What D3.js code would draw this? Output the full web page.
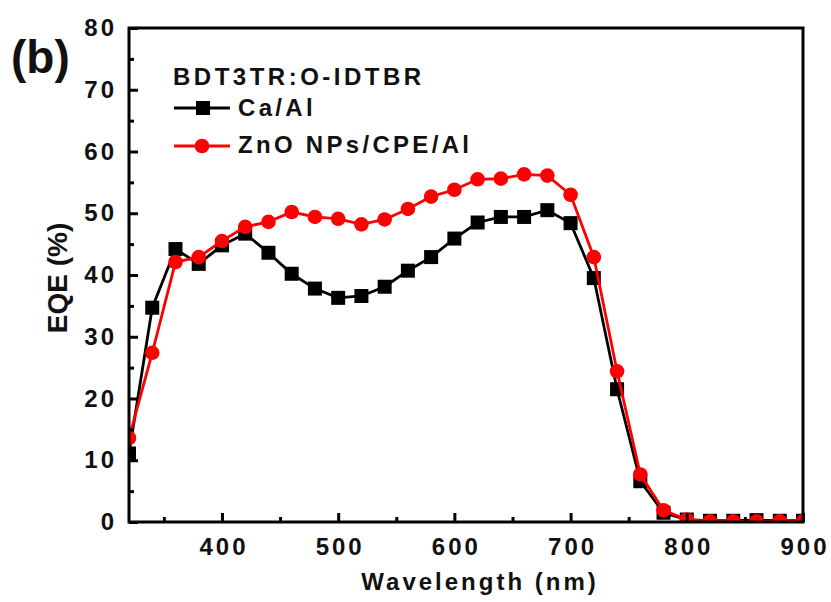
<!DOCTYPE html>
<html>
<head>
<meta charset="utf-8">
<script src="https://cdn.jsdelivr.net/npm/d3@7"></script>
<style>
  body { margin: 0; background: #fff; }
  text { font-family: Arial, "Liberation Sans", sans-serif; font-weight: bold; }
</style>
</head>
<body>
<div id="chart"></div>
<script>
// wavelengths (nm)
const wavelengths = [320, 340, 360, 380, 400, 420, 440, 460, 480, 500, 520, 540, 560, 580, 600,
  620, 640, 660, 680, 700, 720, 740, 760, 780, 800, 820, 840, 860, 880, 900];

// EQE (%) for Ca/Al
const caAl = [11.1, 34.7, 44.2, 41.8, 44.8, 46.7, 43.6, 40.2, 37.8, 36.3, 36.6, 38.1, 40.7, 42.9, 45.9,
  48.5, 49.4, 49.4, 50.5, 48.4, 39.5, 21.5, 6.6, 1.5, 0.4, 0.2, 0.2, 0.3, 0.2, 0.2];

// EQE (%) for ZnO NPs/CPE/Al
const znoCpe = [13.6, 27.4, 42.1, 42.9, 45.5, 47.8, 48.6, 50.2, 49.4, 49.1, 48.2, 49.0, 50.7, 52.7, 53.8,
  55.5, 55.6, 56.3, 56.1, 53.0, 42.9, 24.4, 7.7, 1.9, 0.4, 0.1, 0.1, 0.1, 0.1, 0.1];

const xTicks = [400, 500, 600, 700, 800, 900];
const xMinor = [350, 450, 550, 650, 750, 850];
const yTicks = [0, 10, 20, 30, 40, 50, 60, 70, 80];
const yMinor = [5, 15, 25, 35, 45, 55, 65, 75];

const svgWidth = 831, svgHeight = 602;
const margin = { top: 28, right: 28, bottom: 80, left: 129 };
const width = svgWidth - margin.left - margin.right;
const height = svgHeight - margin.top - margin.bottom;

const svg = d3.select("#chart")
  .append("svg")
  .attr("width", svgWidth)
  .attr("height", svgHeight);

const g = svg.append("g")
  .attr("transform", `translate(${margin.left}, ${margin.top})`);

const x = d3.scaleLinear().domain([320, 900]).range([0, width]);
const y = d3.scaleLinear().domain([0, 80]).range([height, 0]);

// clip so markers at the edges are cut by the frame
g.append("clipPath").attr("id", "clip")
  .append("rect").attr("width", width).attr("height", height);

const plot = g.append("g").attr("clip-path", "url(#clip)");

const line = d3.line()
  .x((d, i) => x(wavelengths[i]))
  .y(d => y(d));

// Ca/Al series
plot.append("path")
  .datum(caAl)
  .attr("fill", "none")
  .attr("stroke", "#000")
  .attr("stroke-width", 2.8)
  .attr("d", line);

plot.selectAll(".sq")
  .data(caAl)
  .join("rect")
  .attr("x", (d, i) => x(wavelengths[i]) - 7)
  .attr("y", d => y(d) - 7)
  .attr("width", 14)
  .attr("height", 14)
  .attr("fill", "#000");

// ZnO series
plot.append("path")
  .datum(znoCpe)
  .attr("fill", "none")
  .attr("stroke", "#f00")
  .attr("stroke-width", 2.8)
  .attr("d", line);

plot.selectAll(".dot")
  .data(znoCpe)
  .join("circle")
  .attr("cx", (d, i) => x(wavelengths[i]))
  .attr("cy", d => y(d))
  .attr("r", 7.3)
  .attr("fill", "#f00");

// axes
const xAxis = g.append("g")
  .attr("transform", `translate(0, ${height})`)
  .call(d3.axisBottom(x).tickValues(xTicks).tickSizeInner(-9).tickSizeOuter(0).tickPadding(16));
xAxis.append("g")
  .call(d3.axisBottom(x).tickValues(xMinor).tickSizeInner(-5).tickSizeOuter(0).tickFormat(""));

const yAxis = g.append("g")
  .call(d3.axisLeft(y).tickValues(yTicks).tickSizeInner(-9).tickSizeOuter(0).tickPadding(12));
yAxis.append("g")
  .call(d3.axisLeft(y).tickValues(yMinor).tickSizeInner(-5).tickSizeOuter(0).tickFormat(""));

g.selectAll(".domain").remove();
g.selectAll(".tick line").attr("stroke", "#000").attr("stroke-width", 3);
g.selectAll(".tick text")
  .style("font-size", "24px")
  .style("letter-spacing", "3px")
  .attr("fill", "#111");
xAxis.selectAll(".tick text").attr("dx", "1.5px");

// frame
g.append("rect")
  .attr("width", width)
  .attr("height", height)
  .attr("fill", "none")
  .attr("stroke", "#000")
  .attr("stroke-width", 3);

// axis titles
svg.append("text")
  .attr("x", 480)
  .attr("y", 590)
  .attr("text-anchor", "middle")
  .style("font-size", "24px")
  .style("letter-spacing", "3px")
  .attr("fill", "#111")
  .text("Wavelength (nm)");

svg.append("text")
  .attr("transform", "translate(67, 278) rotate(-90)")
  .attr("text-anchor", "middle")
  .style("font-size", "28px")
  .attr("fill", "#111")
  .text("EQE (%)");

// panel label
svg.append("text")
  .attr("x", 11)
  .attr("y", 73)
  .style("font-size", "46px")
  .attr("fill", "#111")
  .text("(b)");

// legend
const legend = svg.append("g").attr("transform", "translate(173, 0)");

legend.append("text")
  .attr("x", 0)
  .attr("y", 85)
  .style("font-size", "24px")
  .style("letter-spacing", "3.5px")
  .attr("fill", "#111")
  .text("BDT3TR:O-IDTBR");

legend.append("line")
  .attr("x1", 1).attr("x2", 57)
  .attr("y1", 108).attr("y2", 108)
  .attr("stroke", "#000").attr("stroke-width", 2.8);
legend.append("rect")
  .attr("x", 23).attr("y", 101)
  .attr("width", 14).attr("height", 14)
  .attr("fill", "#000");
legend.append("text")
  .attr("x", 65)
  .attr("y", 116)
  .style("font-size", "24px")
  .style("letter-spacing", "3.3px")
  .attr("fill", "#111")
  .text("Ca/Al");

legend.append("line")
  .attr("x1", 1).attr("x2", 57)
  .attr("y1", 146).attr("y2", 146)
  .attr("stroke", "#f00").attr("stroke-width", 2.8);
legend.append("circle")
  .attr("cx", 29).attr("cy", 146)
  .attr("r", 7.3)
  .attr("fill", "#f00");
legend.append("text")
  .attr("x", 65)
  .attr("y", 153)
  .style("font-size", "24px")
  .style("letter-spacing", "3.3px")
  .attr("fill", "#111")
  .text("ZnO NPs/CPE/Al");
</script>
</body>
</html>
